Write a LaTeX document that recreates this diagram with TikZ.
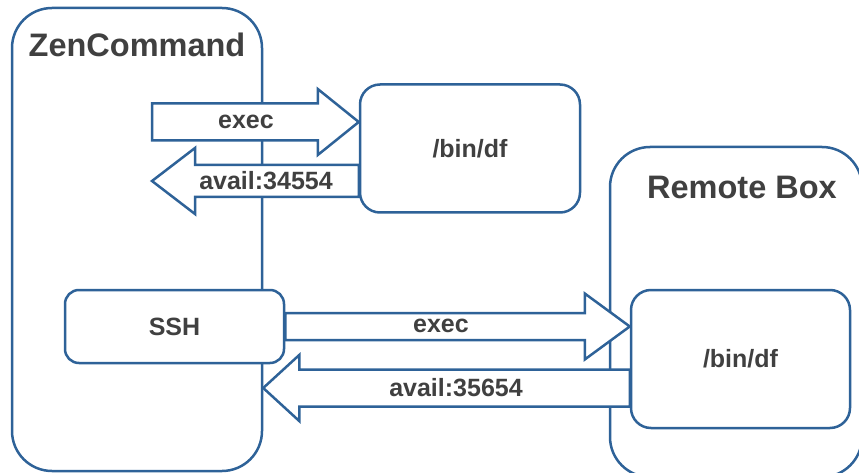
\documentclass[tikz,border=0pt]{standalone}
\usepackage{fontspec}
\setmainfont{Liberation Sans}
\usetikzlibrary{calc,positioning}
\definecolor{ZenBlue}{RGB}{46,98,152}
\definecolor{ZenText}{RGB}{64,64,64}
\tikzset{
  zen/frame/.style={
    draw=ZenBlue,
    line width=2.5pt,
    rounded corners=40pt,
    fill=white,
    inner sep=0pt
  },
  zen/box/.style={
    draw=ZenBlue,
    line width=2.5pt,
    rounded corners=20pt,
    fill=white,
    inner sep=0pt,
    text=ZenText,
    font=\bfseries\fontsize{25}{30}\selectfont
  },
  zen/title/.style={text=ZenText, font=\bfseries\fontsize{32.5}{38}\selectfont, inner sep=0pt},
  zen/label/.style={text=ZenText, font=\bfseries\fontsize{25}{30}\selectfont, inner sep=0pt},
  zen/fat/.style={draw=ZenBlue, line width=2.5pt, fill=white, line join=miter}
}
% fat arrow: tail, tip, half body height, head length
\newcommand{\fatarrow}[4]{%
  \coordinate (fa) at ($(#2)!#4pt!(#1)$);
  \draw[zen/fat] ($(#1)+(0,-#3)$) -- ($(fa)+(0,-#3)$) -- ($(fa)+(0,-33)$) -- (#2)
    -- ($(fa)+(0,33)$) -- ($(fa)+(0,#3)$) -- ($(#1)+(0,#3)$) -- cycle;
}

\begin{document}
\begin{tikzpicture}[x=1pt,y=-1pt]
  \useasboundingbox (0,0) rectangle (859,473);
  % containers
  \node[zen/frame, minimum width=250pt, minimum height=463pt] (zen) at (137,239.5) {};
  \node[zen/title] (zentitle) at (137,45) {ZenCommand};
  \node[zen/frame, minimum width=252pt, minimum height=330pt] (remote) at (736,312) {};
  \node[zen/title] (remotetitle) at (742,187) {Remote Box};
  % boxes
  \node[zen/box, minimum width=220pt, minimum height=128pt] (topdf) at (470,148.5) {/bin/df};
  \node[zen/box, minimum width=219pt, minimum height=73pt, rounded corners=14pt] (ssh) at (174.5,326.5) {SSH};
  \node[zen/box, minimum width=219pt, minimum height=138pt] (remdf) at (740.5,359) {/bin/df};
  % arrow ends
  \coordinate (exectail) at (152,122);
  \coordinate (exectip) at (topdf.west |- exectail);
  \coordinate (availtip) at (152,181);
  \coordinate (availtail) at (topdf.west |- availtip);
  \coordinate (sshtip) at (remdf.west |- ssh.east);
  \coordinate (backtail) at (remdf.west |- 0,388);
  \coordinate (backtip) at (zen.east |- backtail);
  \fatarrow{exectail}{exectip}{18.5}{41}
  \fatarrow{availtail}{availtip}{16}{43}
  \fatarrow{ssh.east}{sshtip}{13.5}{45}
  \fatarrow{backtail}{backtip}{18.5}{36}
  % labels
  \node[zen/label] (execlabel) at (246,122) {exec};
  \node[zen/label] (availlabel) at (266,181) {avail:34554};
  \node[zen/label] (sshlabel) at (441,326) {exec};
  \node[zen/label] (backlabel) at (456,388) {avail:35654};
\end{tikzpicture}
\end{document}
